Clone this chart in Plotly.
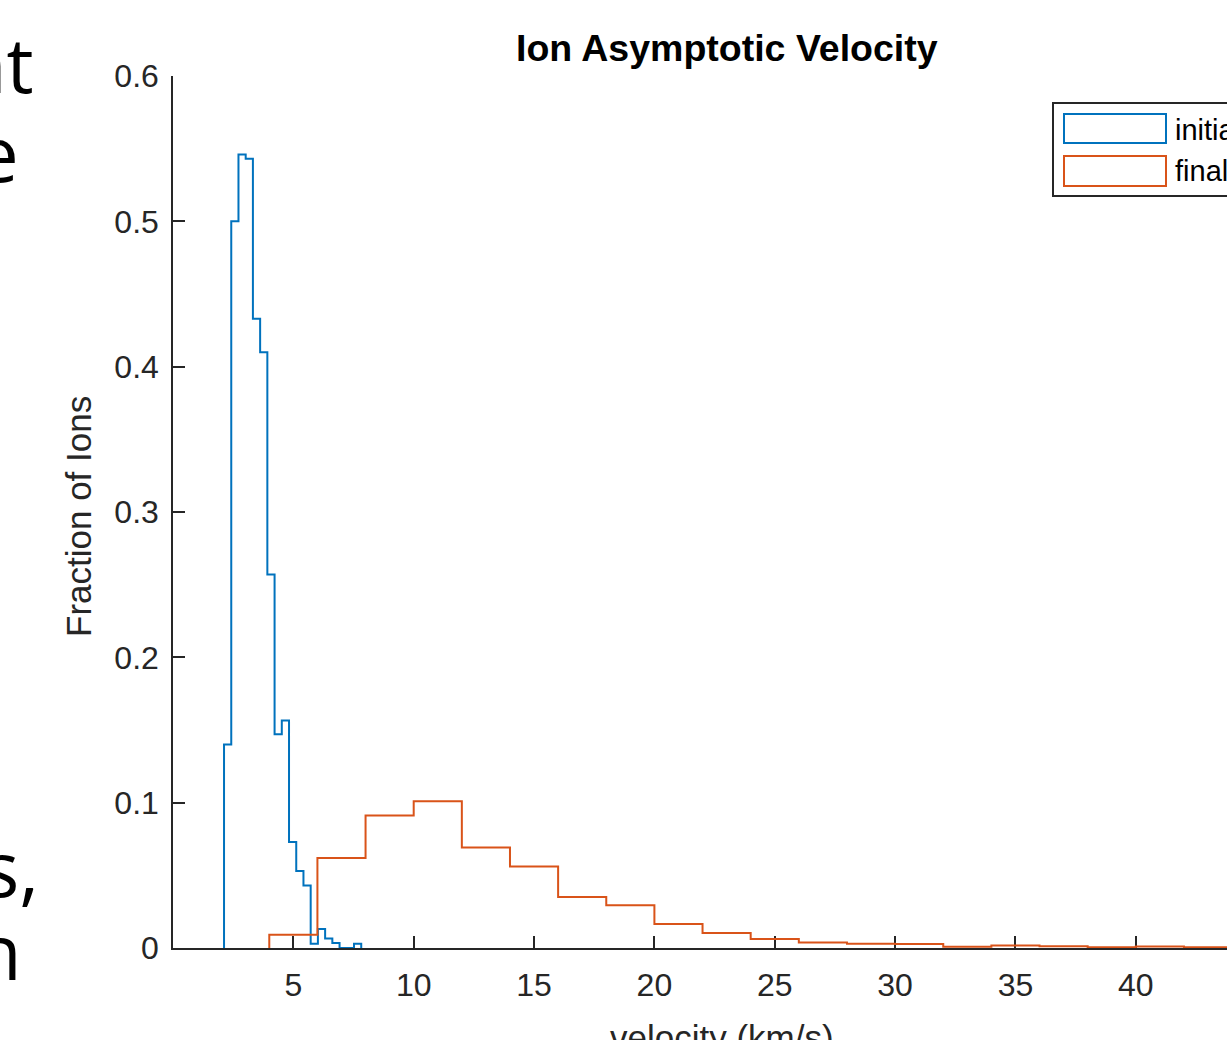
import plotly.graph_objects as go

# ---------------- data ----------------
initial_edges = [2.12, 2.42, 2.72, 3.02, 3.32, 3.62, 3.92, 4.22, 4.52, 4.82,
                 5.12, 5.42, 5.72, 6.02, 6.32, 6.62, 6.92, 7.22, 7.52, 7.82]
initial_vals = [0.140, 0.500, 0.546, 0.543, 0.433, 0.410, 0.257, 0.147, 0.1565,
                0.073, 0.053, 0.043, 0.003, 0.013, 0.0065, 0.0035, 0.0, 0.0, 0.003]

final_edges = [4, 6, 8, 10, 12, 14, 16, 18, 20, 22, 24, 26, 28, 30, 32, 34,
               36, 38, 40, 42, 44, 46]
final_vals = [0.0092, 0.062, 0.0911, 0.101, 0.0691, 0.056, 0.0351, 0.0294,
              0.0165, 0.0103, 0.0062, 0.0037, 0.0030, 0.0028, 0.0008, 0.0018,
              0.0012, 0.0006, 0.0010, 0.0005, 0.0003]

x_ticks = [5, 10, 15, 20, 25, 30, 35, 40]
y_ticks = [0, 0.1, 0.2, 0.3, 0.4, 0.5, 0.6]
y_ticklabels = ["0", "0.1", "0.2", "0.3", "0.4", "0.5", "0.6"]

BLUE = "#0072BD"
ORANGE = "#D95319"
AXC = "#262626"

W, H = 1227, 1040
L, T, B = 173, 76, 948
PW, PH = W - L, B - T


def px(x):
    return (x - L) / PW


def py(y):
    return (B - y) / PH


def stairs(edges, vals):
    xs = [edges[0]] + list(edges)
    ys = [0] + list(vals) + [0]
    return xs, ys


fig = go.Figure()
xs, ys = stairs(initial_edges, initial_vals)
fig.add_trace(go.Scatter(x=xs, y=ys, mode="lines", line=dict(color=BLUE, width=2, shape="hv"),
                         name="initial", showlegend=False, cliponaxis=False))
xs, ys = stairs(final_edges, final_vals)
fig.add_trace(go.Scatter(x=xs, y=ys, mode="lines", line=dict(color=ORANGE, width=2, shape="hv"),
                         name="final", showlegend=False, cliponaxis=False))

font = "Liberation Sans, Arial, Helvetica, sans-serif"

fig.update_layout(
    width=W, height=H,
    margin=dict(l=L, r=0, t=T, b=H - B, pad=0, autoexpand=False),
    paper_bgcolor="white", plot_bgcolor="white",
    font=dict(family=font, size=32, color=AXC),
    showlegend=False,
    xaxis=dict(range=[0, (W - L) / 24.07], tickmode="array", tickvals=x_ticks,
               ticks="inside", ticklen=12, tickwidth=1.5, tickcolor=AXC,
               showline=True, linecolor=AXC, linewidth=1.5, showgrid=False,
               zeroline=False, layer="below traces", ticklabelstandoff=8,
               tickfont=dict(size=32, color=AXC)),
    yaxis=dict(range=[0, 0.6], tickmode="array", tickvals=y_ticks, ticktext=y_ticklabels,
               ticks="inside", ticklen=12, tickwidth=1.5, tickcolor=AXC,
               showline=True, linecolor=AXC, linewidth=1.5, showgrid=False,
               zeroline=False, layer="below traces", ticklabelstandoff=6,
               tickfont=dict(size=32, color=AXC)),
)

ann = []
ann.append(dict(text="<b>Ion Asymptotic Velocity</b>", x=px(726.5), y=py(48), xref="paper", yref="paper",
                showarrow=False, xanchor="center", yanchor="middle",
                font=dict(family=font, size=37.5, color="black")))
ann.append(dict(text="Fraction of Ions", x=px(78), y=py(517), xref="paper", yref="paper",
                showarrow=False, xanchor="center", yanchor="middle", textangle=-90,
                font=dict(family=font, size=35, color=AXC)))
ann.append(dict(text="velocity (km/s)", x=px(722), y=py(1037), xref="paper", yref="paper",
                showarrow=False, xanchor="center", yanchor="middle",
                font=dict(family=font, size=35, color=AXC)))

# legend (drawn manually, cropped at right edge)
shapes = []
shapes.append(dict(type="rect", xref="paper", yref="paper", x0=px(1053), x1=px(1260),
                   y0=py(196), y1=py(103), line=dict(color=AXC, width=2), fillcolor="white",
                   layer="above"))
shapes.append(dict(type="rect", xref="paper", yref="paper", x0=px(1064), x1=px(1166),
                   y0=py(143), y1=py(114), line=dict(color=BLUE, width=2), fillcolor="white",
                   layer="above"))
shapes.append(dict(type="rect", xref="paper", yref="paper", x0=px(1064), x1=px(1166),
                   y0=py(186), y1=py(156), line=dict(color=ORANGE, width=2), fillcolor="white",
                   layer="above"))
ann.append(dict(text="initial", x=px(1173), y=py(130), xref="paper", yref="paper",
                showarrow=False, xanchor="left", yanchor="middle",
                font=dict(family=font, size=29, color="black")))
ann.append(dict(text="final", x=px(1173), y=py(171), xref="paper", yref="paper",
                showarrow=False, xanchor="left", yanchor="middle",
                font=dict(family=font, size=29, color="black")))

# fragments of surrounding slide text at the left edge
slide_font = "Open Sans, sans-serif"
for txt, xr, yc in [("nt", 36, 64), ("e", 21, 152), ("s,", 41, 867), ("n", 24, 951)]:
    ann.append(dict(text=txt, x=px(xr), y=py(yc), xref="paper", yref="paper",
                    showarrow=False, xanchor="right", yanchor="middle",
                    font=dict(family=slide_font, size=76, color="black")))

fig.update_layout(annotations=ann, shapes=shapes)
fig.write_html("out.html", config={"displayModeBar": False},
               post_script="document.body.style.margin='0';document.body.style.overflow='hidden';")
